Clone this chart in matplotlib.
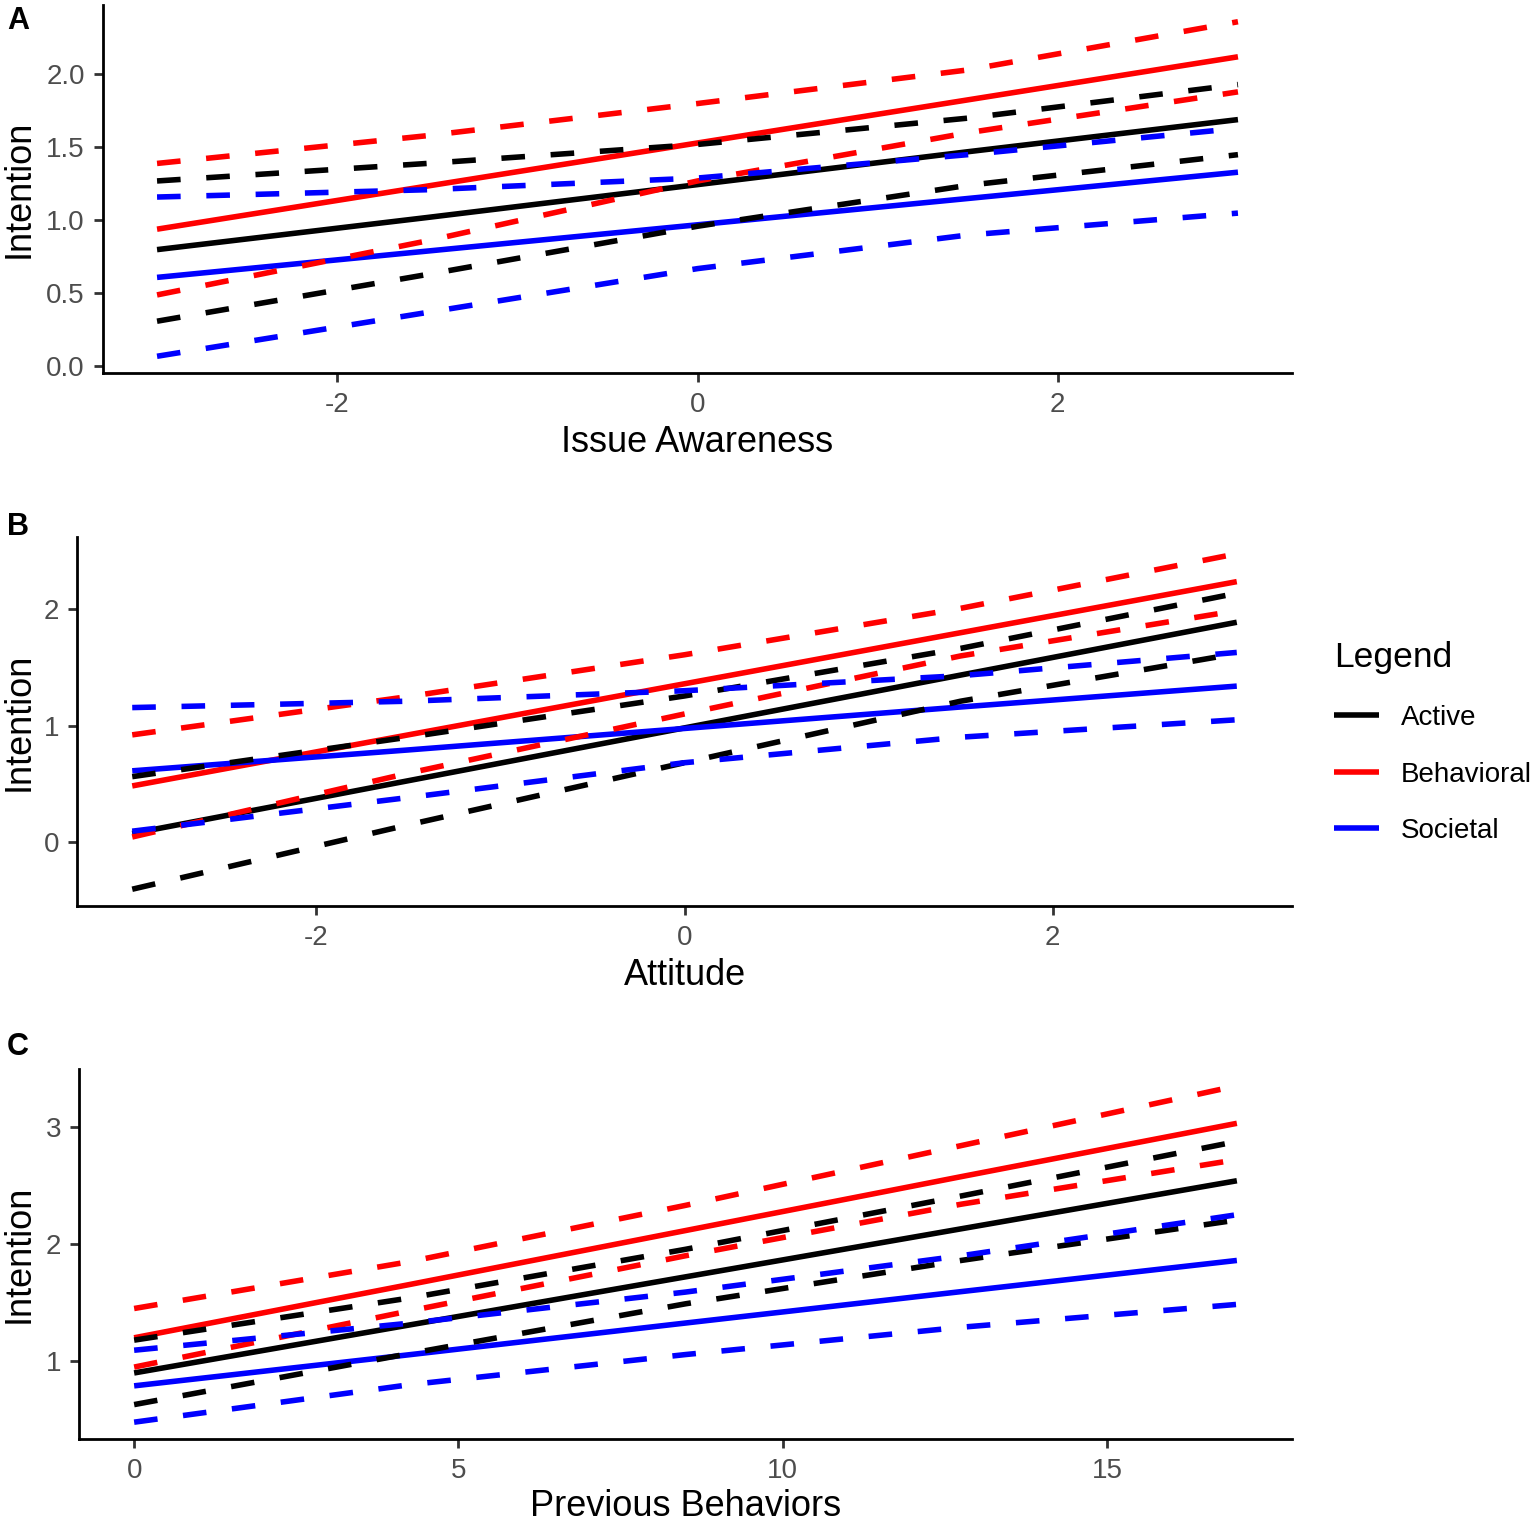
import matplotlib
matplotlib.use("Agg")
import matplotlib.pyplot as plt
from matplotlib.lines import Line2D

plt.rcParams['font.family'] = ['Liberation Sans', 'DejaVu Sans']
plt.rcParams['axes.unicode_minus'] = False
plt.rcParams['lines.scale_dashes'] = False

groups = ["Active", "Behavioral", "Societal"]
group_colors = ["#000000", "#FF0000", "#0000FF"]

# ---------------- Panel A : Issue Awareness ----------------
a_x = [-3, -1.5, 0, 1.5, 3]
a_active_fit = [0.80, 1.02, 1.245, 1.47, 1.69]
a_active_lo = [0.31, 0.63, 0.96, 1.24, 1.45]
a_active_hi = [1.27, 1.39, 1.52, 1.70, 1.93]
a_behav_fit = [0.94, 1.235, 1.53, 1.825, 2.12]
a_behav_lo = [0.49, 0.86, 1.27, 1.60, 1.88]
a_behav_hi = [1.39, 1.58, 1.80, 2.03, 2.36]
a_soc_fit = [0.61, 0.79, 0.97, 1.15, 1.33]
a_soc_lo = [0.07, 0.37, 0.67, 0.90, 1.05]
a_soc_hi = [1.16, 1.21, 1.29, 1.45, 1.63]
a_xticks = [-2, 0, 2]
a_xticklabels = ["-2", "0", "2"]
a_yticks = [0.0, 0.5, 1.0, 1.5, 2.0]
a_yticklabels = ["0.0", "0.5", "1.0", "1.5", "2.0"]

# ---------------- Panel B : Attitude ----------------
b_x = [-3, -1.5, 0, 1.5, 3]
b_active_fit = [0.07, 0.525, 0.98, 1.435, 1.89]
b_active_lo = [-0.41, 0.145, 0.68, 1.21, 1.62]
b_active_hi = [0.56, 0.90, 1.255, 1.665, 2.14]
b_behav_fit = [0.48, 0.92, 1.36, 1.80, 2.24]
b_behav_lo = [0.04, 0.59, 1.10, 1.60, 1.99]
b_behav_hi = [0.92, 1.25, 1.61, 2.01, 2.48]
b_soc_fit = [0.61, 0.79, 0.975, 1.16, 1.34]
b_soc_lo = [0.09, 0.38, 0.68, 0.90, 1.05]
b_soc_hi = [1.155, 1.21, 1.30, 1.43, 1.63]
b_xticks = [-2, 0, 2]
b_xticklabels = ["-2", "0", "2"]
b_yticks = [0, 1, 2]
b_yticklabels = ["0", "1", "2"]

# ---------------- Panel C : Previous Behaviors ----------------
c_x = [0, 4.25, 8.5, 12.75, 17]
c_active_fit = [0.90, 1.31, 1.72, 2.13, 2.54]
c_active_lo = [0.63, 1.066, 1.49, 1.86, 2.205]
c_active_hi = [1.18, 1.54, 1.955, 2.41, 2.875]
c_behav_fit = [1.20, 1.655, 2.115, 2.575, 3.03]
c_behav_lo = [0.95, 1.43, 1.90, 2.34, 2.72]
c_behav_hi = [1.45, 1.85, 2.33, 2.84, 3.35]
c_soc_fit = [0.79, 1.056, 1.326, 1.594, 1.86]
c_soc_lo = [0.48, 0.80, 1.057, 1.29, 1.485]
c_soc_hi = [1.094, 1.325, 1.59, 1.90, 2.25]
c_xticks = [0, 5, 10, 15]
c_xticklabels = ["0", "5", "10", "15"]
c_yticks = [1, 2, 3]
c_yticklabels = ["1", "2", "3"]

panels = [
    dict(letter="A", xlabel="Issue Awareness", x=a_x,
         fit=[a_active_fit, a_behav_fit, a_soc_fit],
         lo=[a_active_lo, a_behav_lo, a_soc_lo],
         hi=[a_active_hi, a_behav_hi, a_soc_hi],
         xt=a_xticks, xtl=a_xticklabels, yt=a_yticks, ytl=a_yticklabels,
         rect_px=(103, 5, 1292, 373), letter_px=(7, 6), xlabelpad=5),
    dict(letter="B", xlabel="Attitude", x=b_x,
         fit=[b_active_fit, b_behav_fit, b_soc_fit],
         lo=[b_active_lo, b_behav_lo, b_soc_lo],
         hi=[b_active_hi, b_behav_hi, b_soc_hi],
         xt=b_xticks, xtl=b_xticklabels, yt=b_yticks, ytl=b_yticklabels,
         rect_px=(77, 537, 1292, 906), letter_px=(7, 512), xlabelpad=5),
    dict(letter="C", xlabel="Previous Behaviors", x=c_x,
         fit=[c_active_fit, c_behav_fit, c_soc_fit],
         lo=[c_active_lo, c_behav_lo, c_soc_lo],
         hi=[c_active_hi, c_behav_hi, c_soc_hi],
         xt=c_xticks, xtl=c_xticklabels, yt=c_yticks, ytl=c_yticklabels,
         rect_px=(79, 1069, 1292, 1439), letter_px=(7, 1032), xlabelpad=3.5),
]

W, H = 1535, 1522
fig = plt.figure(figsize=(W / 100, H / 100), dpi=100)

LW = 4.0
DASH = (0, (17.0, 18.5))
YLABEL_X_PX = 19
for p in panels:
    l, t, r, b = p["rect_px"]
    ax = fig.add_axes([l / W, 1 - b / H, (r - l) / W, (b - t) / H])
    # solid fitted lines
    for fit, col in zip(p["fit"], group_colors):
        ax.plot(p["x"], fit, color=col, lw=LW, solid_capstyle="butt", zorder=2)
    # lower confidence limits
    for lo, col in zip(p["lo"], group_colors):
        ax.plot(p["x"], lo, color=col, lw=LW, linestyle=DASH,
                dash_capstyle="butt", zorder=3)
    # upper confidence limits
    for hi, col in zip(p["hi"], group_colors):
        ax.plot(p["x"], hi, color=col, lw=LW, linestyle=DASH,
                dash_capstyle="butt", zorder=3)

    allv = [v for arr in p["fit"] + p["lo"] + p["hi"] for v in arr]
    ymin, ymax = min(allv), max(allv)
    pad = 0.05 * (ymax - ymin)
    ax.set_ylim(ymin - pad, ymax + pad)
    xmin, xmax = min(p["x"]), max(p["x"])
    padx = 0.05 * (xmax - xmin)
    ax.set_xlim(xmin - padx, xmax + padx)

    ax.set_xticks(p["xt"])
    ax.set_xticklabels(p["xtl"])
    ax.set_yticks(p["yt"])
    ax.set_yticklabels(p["ytl"])

    for s in ["top", "right"]:
        ax.spines[s].set_visible(False)
    for s in ["left", "bottom"]:
        ax.spines[s].set_linewidth(2.0)
        ax.spines[s].set_color("black")
    ax.tick_params(axis="both", length=6.5, width=2.0, color="#333333",
                   labelcolor="#4D4D4D", labelsize=20)
    ax.tick_params(axis="x", pad=7)
    ax.tick_params(axis="y", pad=6.5)
    ax.set_xlabel(p["xlabel"], fontsize=26, color="black",
                  labelpad=p["xlabelpad"])
    ax.set_ylabel("Intention", fontsize=26, color="black", va="center")
    ax.yaxis.set_label_coords((YLABEL_X_PX - l) / (r - l), 0.5)

    lx, ly = p["letter_px"]
    fig.text(lx / W, 1 - ly / H, p["letter"], fontsize=22, fontweight="bold",
             ha="left", va="top", color="black")

handles = [Line2D([0], [0], color=c, lw=LW, solid_capstyle="butt")
           for c in group_colors]
fig.legend(handles, groups, title="Legend", loc="upper left",
           bbox_to_anchor=(1315 / W, 1 - 622 / H), frameon=False,
           fontsize=20, title_fontsize=25.5, handlelength=1.6,
           handletextpad=0.8, labelspacing=1.1, alignment="left",
           borderpad=0.2)

fig.savefig("out.png", dpi=100)
